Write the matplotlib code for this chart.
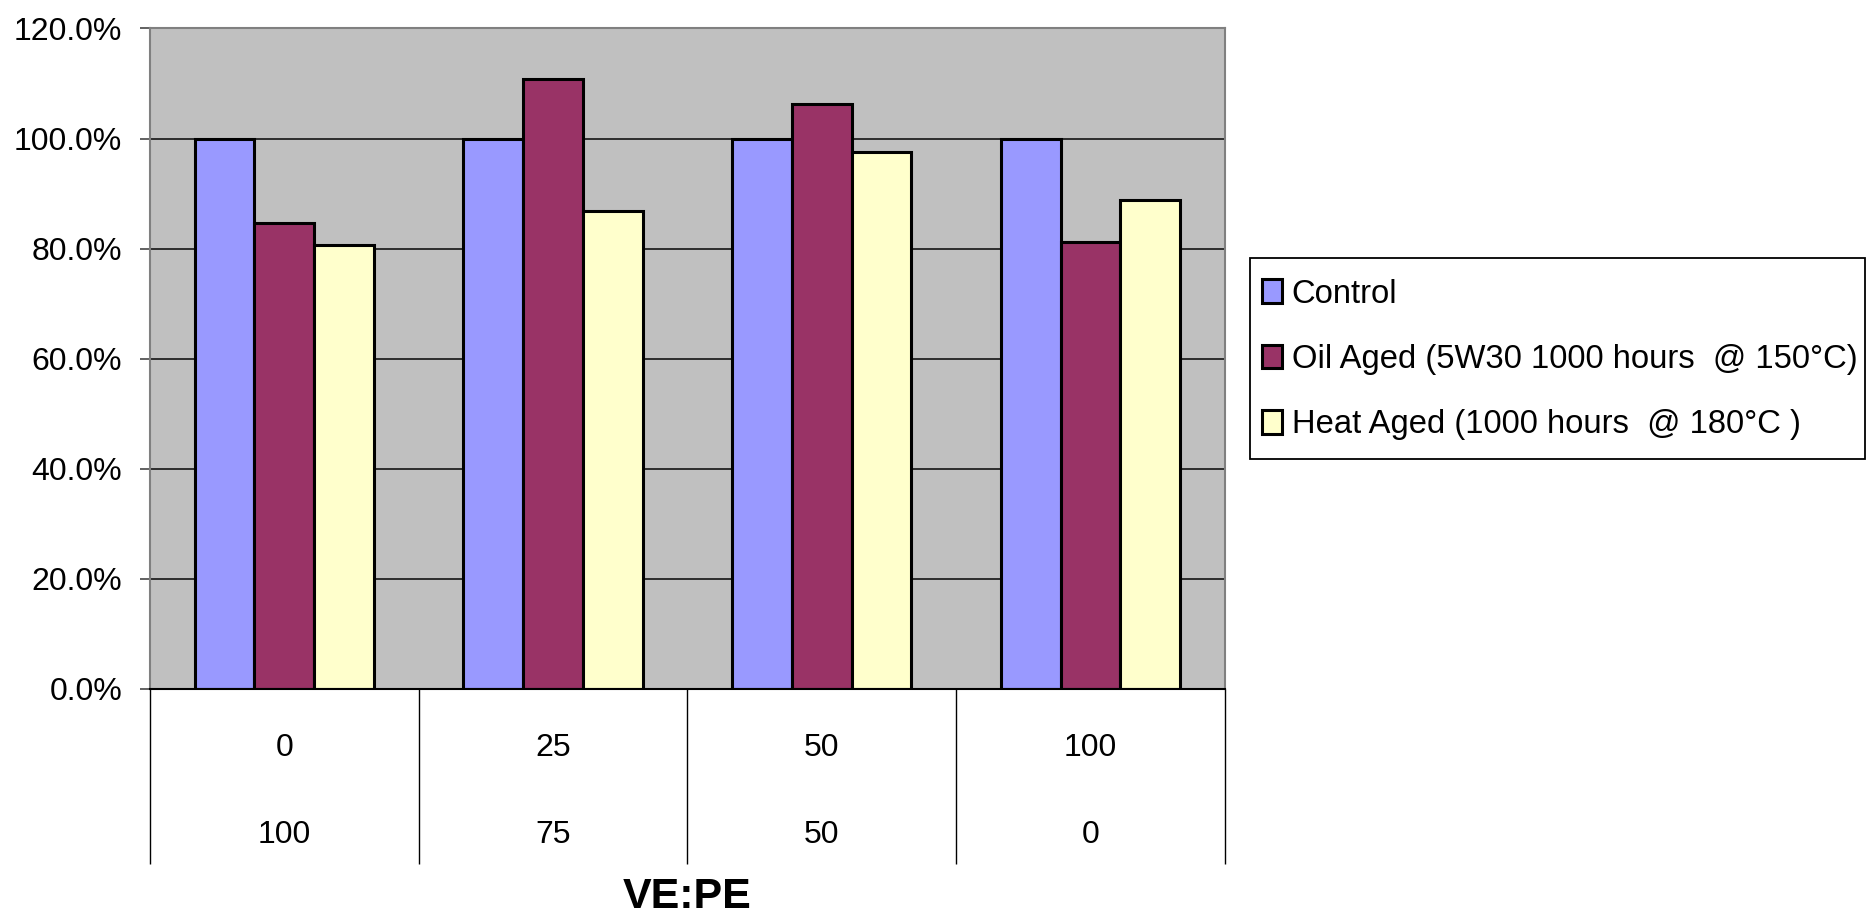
import matplotlib.pyplot as plt
import numpy as np
from matplotlib.patches import Rectangle

categories_ve = ["0", "25", "50", "100"]
categories_pe = ["100", "75", "50", "0"]
series_names = [
    "Control",
    "Oil Aged (5W30 1000 hours  @ 150°C)",
    "Heat Aged (1000 hours  @ 180°C )",
]
control = [100.0, 100.0, 100.0, 100.0]
oil_aged = [84.7, 110.8, 106.2, 81.2]
heat_aged = [80.6, 86.9, 97.5, 88.8]
y_ticks = [0, 20, 40, 60, 80, 100, 120]

colors = ["#9999FF", "#993366", "#FFFFCC"]

plt.rcParams["font.family"] = ["Liberation Sans", "DejaVu Sans"]

fig = plt.figure(figsize=(18.67, 9.18), dpi=100)
ax = fig.add_axes([0.0803, 0.2495, 0.5757, 0.7195])
ax.set_facecolor("#C0C0C0")

x = np.arange(len(categories_ve))
width = 1 / 4.5
for i, (vals, name) in enumerate(zip([control, oil_aged, heat_aged], series_names)):
    ax.bar(x + (i - 1) * width, vals, width, color=colors[i], edgecolor="black",
           linewidth=2.2, label=name, zorder=3)

ax.set_xlim(-0.5, len(categories_ve) - 0.5)
ax.set_ylim(0, 120)
ax.set_yticks(y_ticks)
ax.set_yticklabels([f"{v:.1f}%" for v in y_ticks], fontsize=23)
ax.yaxis.grid(True, color="#222222", linewidth=1.3, zorder=1)
ax.tick_params(axis="y", length=7, width=1.3, color="#555555", pad=13)

# category axis: boundaries as long ticks, two label rows as text
ax.set_xticks([])
ax.set_xticks(np.arange(len(categories_ve) + 1) - 0.5, minor=True)
ax.tick_params(axis="x", which="minor", length=126, width=1.0, color="black", direction="out")
trans = ax.get_xaxis_transform()
for xi, a, b in zip(x, categories_ve, categories_pe):
    ax.text(xi, -0.089, a, transform=trans, ha="center", va="center", fontsize=23)
    ax.text(xi, -0.221, b, transform=trans, ha="center", va="center", fontsize=23)
ax.text(0.5, -0.315, "VE:PE", transform=ax.transAxes, ha="center", va="center",
        fontsize=31, fontweight="bold")

for side in ["left", "top", "right"]:
    ax.spines[side].set_color("#808080")
    ax.spines[side].set_linewidth(1.5)
ax.spines["bottom"].set_color("black")
ax.spines["bottom"].set_linewidth(1.5)
ax.spines["bottom"].set_zorder(4)

# legend box drawn as its own frame, entries placed inside it
fig.patches.append(Rectangle((0.6695, 0.5), 0.3295, 0.219, transform=fig.transFigure,
                             facecolor="white", edgecolor="black", linewidth=1.3))
leg = fig.legend(loc="center left", bbox_to_anchor=(0.6757, 0.6084), fontsize=23.6,
                 frameon=False, handlelength=0.62, handleheight=0.72, handletextpad=0.3,
                 labelspacing=1.05, borderpad=0, borderaxespad=0)

fig.savefig("out.png", dpi=100)
